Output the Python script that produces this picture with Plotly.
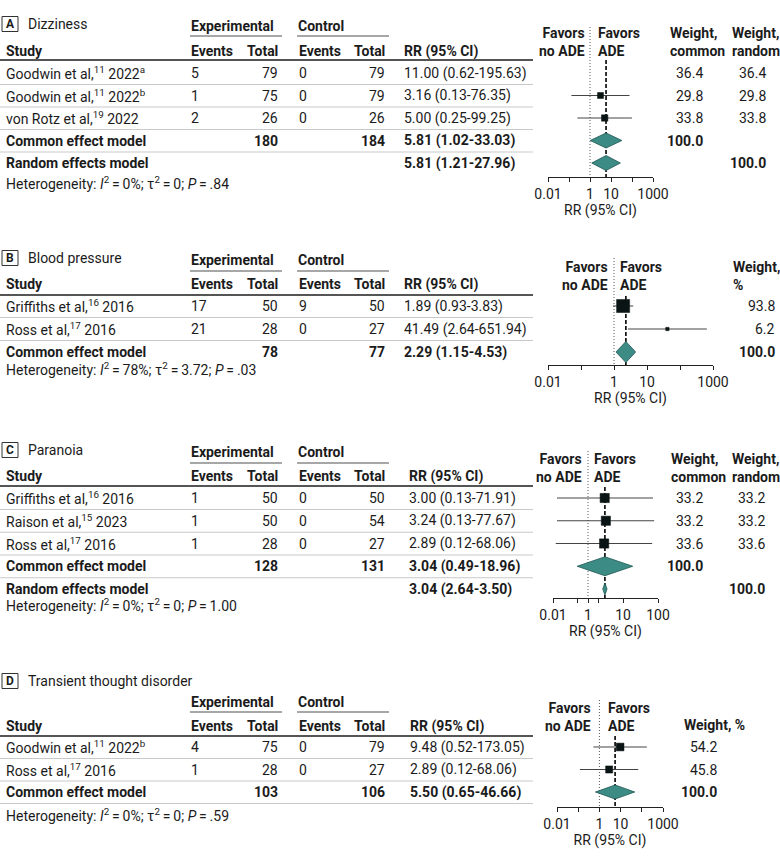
import math
import plotly.graph_objects as go

W, H = 780, 861
FONT = "Roboto, Liberation Sans, sans-serif"
FS = 14
INK = "#1b1b1b"
TEAL = "#3d8b85"
TEAL_EDGE = "#1f5753"
SQ = "#0a1414"

# ---------------- A  Dizziness
a_study = ["Goodwin et al,<sup>11</sup> 2022<sup>a</sup>", "Goodwin et al,<sup>11</sup> 2022<sup>b</sup>",
           "von Rotz et al,<sup>19</sup> 2022"]
a_ev_e = [5, 1, 2]
a_tot_e = [79, 75, 26]
a_ev_c = [0, 0, 0]
a_tot_c = [79, 79, 26]
a_rr = [11.00, 3.16, 5.00]
a_lo = [0.62, 0.13, 0.25]
a_hi = [195.63, 76.35, 99.25]
a_drawn = [False, True, True]
a_w_common = [36.4, 29.8, 33.8]
a_w_random = [36.4, 29.8, 33.8]
a_pool_label = ["Common effect model", "Random effects model"]
a_pool_tot_e = [180, None]
a_pool_tot_c = [184, None]
a_pool_rr = [5.81, 5.81]
a_pool_lo = [1.02, 1.21]
a_pool_hi = [33.03, 27.96]
a_het = ("0%", "0", ".84")

# ---------------- B  Blood pressure
b_study = ["Griffiths et al,<sup>16</sup> 2016", "Ross et al,<sup>17</sup> 2016"]
b_ev_e = [17, 21]
b_tot_e = [50, 28]
b_ev_c = [9, 0]
b_tot_c = [50, 27]
b_rr = [1.89, 41.49]
b_lo = [0.93, 2.64]
b_hi = [3.83, 651.94]
b_drawn = [True, True]
b_w = [93.8, 6.2]
b_pool_label = ["Common effect model"]
b_pool_tot_e = [78]
b_pool_tot_c = [77]
b_pool_rr = [2.29]
b_pool_lo = [1.15]
b_pool_hi = [4.53]
b_het = ("78%", "3.72", ".03")

# ---------------- C  Paranoia
c_study = ["Griffiths et al,<sup>16</sup> 2016", "Raison et al,<sup>15</sup> 2023", "Ross et al,<sup>17</sup> 2016"]
c_ev_e = [1, 1, 1]
c_tot_e = [50, 50, 28]
c_ev_c = [0, 0, 0]
c_tot_c = [50, 54, 27]
c_rr = [3.00, 3.24, 2.89]
c_lo = [0.13, 0.13, 0.12]
c_hi = [71.91, 77.67, 68.06]
c_drawn = [True, True, True]
c_w_common = [33.2, 33.2, 33.6]
c_w_random = [33.2, 33.2, 33.6]
c_pool_label = ["Common effect model", "Random effects model"]
c_pool_tot_e = [128, None]
c_pool_tot_c = [131, None]
c_pool_rr = [3.04, 3.04]
c_pool_lo = [0.49, 2.64]
c_pool_hi = [18.96, 3.50]
c_het = ("0%", "0", "1.00")

# ---------------- D  Transient thought disorder
d_study = ["Goodwin et al,<sup>11</sup> 2022<sup>b</sup>", "Ross et al,<sup>17</sup> 2016"]
d_ev_e = [4, 1]
d_tot_e = [75, 28]
d_ev_c = [0, 0]
d_tot_c = [79, 27]
d_rr = [9.48, 2.89]
d_lo = [0.52, 0.12]
d_hi = [173.05, 68.06]
d_drawn = [True, True]
d_w = [54.2, 45.8]
d_pool_label = ["Common effect model"]
d_pool_tot_e = [103]
d_pool_tot_c = [106]
d_pool_rr = [5.50]
d_pool_lo = [0.65]
d_pool_hi = [46.66]
d_het = ("0%", "0", ".59")

std_ticks = [0.01, 0.1, 1, 10, 100, 1000]
std_labels = ["0.01", "", "1", "10", "", "1000"]
c_ticks = [0.1, 0.5, 1, 2, 10, 100]
c_labels = ["0.01", "", "1", "", "10", "100"]

panels = [
    dict(letter="A", title="Dizziness", study=a_study, ev_e=a_ev_e, tot_e=a_tot_e, ev_c=a_ev_c, tot_c=a_tot_c,
         rr=a_rr, lo=a_lo, hi=a_hi, drawn=a_drawn,
         wcols=[("Weight,<br>common", a_w_common, [100.0, None]), ("Weight,<br>random", a_w_random, [None, 100.0])],
         pool_label=a_pool_label, pool_tot_e=a_pool_tot_e, pool_tot_c=a_pool_tot_c,
         pool_rr=a_pool_rr, pool_lo=a_pool_lo, pool_hi=a_pool_hi, het=a_het,
         ticks=std_ticks, labels=std_labels,
         # layout
         title_y=24, grp_y=26, uline_y=36, head_y=51, thick_y=60, row0=73, dy=22.5, het_y=183,
         axis_y=177, rr_x=403, fav_y=41.5, fav_r=586, fav_l=597, dot_top=27, dash_top=60,
         wpos=[(669, 704), (731, 767)], whead_y=41.5, sq_k=1.1, dia_h=[7.5, 7.5],
         xdom=(548, 653), xr=(-2, 3), sep_last=False),
    dict(letter="B", title="Blood pressure", study=b_study, ev_e=b_ev_e, tot_e=b_tot_e, ev_c=b_ev_c, tot_c=b_tot_c,
         rr=b_rr, lo=b_lo, hi=b_hi, drawn=b_drawn,
         wcols=[("Weight,<br>%", b_w, [100.0])],
         pool_label=b_pool_label, pool_tot_e=b_pool_tot_e, pool_tot_c=b_pool_tot_c,
         pool_rr=b_pool_rr, pool_lo=b_pool_lo, pool_hi=b_pool_hi, het=b_het,
         ticks=std_ticks, labels=std_labels,
         title_y=258, grp_y=260, uline_y=271, head_y=284, thick_y=295, row0=306, dy=23, het_y=369,
         axis_y=365, rr_x=403, fav_y=275.5, fav_r=609, fav_l=619, dot_top=258, dash_top=296,
         wpos=[(732, 776)], whead_y=275.5, sq_k=1.35, dia_h=[10.5],
         xdom=(548, 713), xr=(-2, 3), sep_last=False),
    dict(letter="C", title="Paranoia", study=c_study, ev_e=c_ev_e, tot_e=c_tot_e, ev_c=c_ev_c, tot_c=c_tot_c,
         rr=c_rr, lo=c_lo, hi=c_hi, drawn=c_drawn,
         wcols=[("Weight,<br>common", c_w_common, [100.0, None]), ("Weight,<br>random", c_w_random, [None, 100.0])],
         pool_label=c_pool_label, pool_tot_e=c_pool_tot_e, pool_tot_c=c_pool_tot_c,
         pool_rr=c_pool_rr, pool_lo=c_pool_lo, pool_hi=c_pool_hi, het=c_het,
         ticks=c_ticks, labels=c_labels,
         title_y=450, grp_y=452, uline_y=463, head_y=476, thick_y=486, row0=498, dy=22.75, het_y=605,
         axis_y=598, rr_x=408, fav_y=468, fav_r=583, fav_l=593, dot_top=451, dash_top=487,
         wpos=[(670, 704), (731, 766)], whead_y=468, sq_k=1.6, dia_h=[9.5, 6],
         xdom=(553, 658), xr=(-1, 2), sep_last=False),
    dict(letter="D", title="Transient thought disorder", study=d_study, ev_e=d_ev_e, tot_e=d_tot_e, ev_c=d_ev_c,
         tot_c=d_tot_c, rr=d_rr, lo=d_lo, hi=d_hi, drawn=d_drawn,
         wcols=[("Weight, %", d_w, [100.0])],
         pool_label=d_pool_label, pool_tot_e=d_pool_tot_e, pool_tot_c=d_pool_tot_c,
         pool_rr=d_pool_rr, pool_lo=d_pool_lo, pool_hi=d_pool_hi, het=d_het,
         ticks=std_ticks, labels=std_labels,
         title_y=681, grp_y=702, uline_y=712, head_y=726, thick_y=736, row0=747, dy=22.5, het_y=815,
         axis_y=807, rr_x=409, fav_y=716.5, fav_r=592, fav_l=607, dot_top=700, dash_top=736,
         wpos=[(683, 718)], whead_y=725, sq_k=1.05, dia_h=[7],
         xdom=(557, 663), xr=(-2, 3), sep_last=True),
]

fig = go.Figure()


def txt(x, y, s, anchor="left", bold=False, size=FS, align="left"):
    if bold:
        s = "<b>" + s + "</b>"
    fig.add_annotation(x=x, y=y, xref="x", yref="y", text=s, showarrow=False, xanchor=anchor,
                       yanchor="middle", align=align, borderpad=0,
                       font=dict(family=FONT, size=size, color=INK))


def hline(x0, x1, y, color, width):
    fig.add_shape(type="line", xref="x", yref="y", x0=x0, x1=x1, y0=y, y1=y,
                  line=dict(color=color, width=width))


def fmt_ci(r, l, h):
    return "%.2f (%.2f-%.2f)" % (r, l, h)


TH = "\u2009"

for k, p in enumerate(panels):
    ax = "x%d" % (k + 2)
    n = len(p["study"])
    rows = [p["row0"] + i * p["dy"] for i in range(n + len(p["pool_label"]))]

    # panel label
    fig.add_shape(type="rect", xref="x", yref="y", x0=2, x1=18, y0=p["title_y"] - 7.5, y1=p["title_y"] + 7.5,
                  line=dict(color="#333333", width=1))
    txt(10, p["title_y"], p["letter"], anchor="center", bold=True, size=12)
    txt(27, p["title_y"], p["title"])

    # group headers
    txt(190, p["grp_y"], "Experimental", bold=True)
    txt(297, p["grp_y"], "Control", bold=True)
    hline(190, 282, p["uline_y"], "#8a8a8a", 1.5)
    hline(297, 389, p["uline_y"], "#8a8a8a", 1.5)
    txt(5, p["head_y"], "Study", bold=True)
    txt(190, p["head_y"], "Events", bold=True)
    txt(279, p["head_y"], "Total", anchor="right", bold=True)
    txt(298, p["head_y"], "Events", bold=True)
    txt(386, p["head_y"], "Total", anchor="right", bold=True)
    txt(p["rr_x"], p["head_y"], "RR (95% CI)", bold=True)
    hline(0, 533, p["thick_y"], "#555555", 2)

    # study rows
    for i in range(n):
        y = rows[i]
        txt(5, y, p["study"][i])
        txt(190, y, str(p["ev_e"][i]))
        txt(279, y, str(p["tot_e"][i]), anchor="right")
        txt(298, y, str(p["ev_c"][i]))
        txt(386, y, str(p["tot_c"][i]), anchor="right")
        txt(p["rr_x"], y, fmt_ci(p["rr"][i], p["lo"][i], p["hi"][i]))
        hline(0, 533, y + 11.5, "#c9c9c9", 1)
        for (head, w, wp), (xl, xr_) in zip(p["wcols"], p["wpos"]):
            txt(xr_, y, "%.1f" % w[i], anchor="right")

    # pooled rows
    npool = len(p["pool_label"])
    for j in range(npool):
        y = rows[n + j]
        txt(5, y, p["pool_label"][j], bold=True)
        if p["pool_tot_e"][j] is not None:
            txt(279, y, str(p["pool_tot_e"][j]), anchor="right", bold=True)
            txt(386, y, str(p["pool_tot_c"][j]), anchor="right", bold=True)
        txt(p["rr_x"], y, fmt_ci(p["pool_rr"][j], p["pool_lo"][j], p["pool_hi"][j]), bold=True)
        if j < npool - 1 or p["sep_last"]:
            hline(0, 533, y + 11.5, "#c9c9c9", 1)
        for (head, w, wp), (xl, xr_) in zip(p["wcols"], p["wpos"]):
            if wp[j] is not None:
                txt(xr_, y, "%.1f" % wp[j], anchor="right", bold=True)

    # weight headers
    for (head, w, wp), (xl, xr_) in zip(p["wcols"], p["wpos"]):
        txt(xl, p["whead_y"], head, bold=True)

    het = p["het"]
    txt(5, p["het_y"], ("Heterogeneity: <i>I</i><sup>2</sup>" + TH + "=" + TH + "%s; τ<sup>2</sup>" + TH + "=" + TH
                        + "%s; <i>P</i>" + TH + "=" + TH + "%s") % het)

    # favors labels
    txt(p["fav_r"], p["fav_y"], "Favors<br>no ADE", anchor="right", bold=True, align="right")
    txt(p["fav_l"], p["fav_y"], "Favors<br>ADE", bold=True)

    # forest plot
    ay = p["axis_y"]
    fig.add_trace(go.Scatter(x=[1, 1], y=[p["dot_top"], ay], mode="lines", xaxis=ax, yaxis="y",
                             line=dict(color="#555555", width=1, dash="1px,2px"), hoverinfo="skip"))
    fig.add_trace(go.Scatter(x=[p["pool_rr"][0]] * 2, y=[p["dash_top"], ay], mode="lines", xaxis=ax, yaxis="y",
                             line=dict(color="#111111", width=1.7, dash="4px,2px"), hoverinfo="skip"))
    cx, cy, mx, my, ms = [], [], [], [], []
    wsq = p["wcols"][0][1]
    for i in range(n):
        if not p["drawn"][i]:
            continue
        cx += [p["lo"][i], p["hi"][i], None]
        cy += [rows[i], rows[i], None]
        mx.append(p["rr"][i])
        my.append(rows[i])
        ms.append(p["sq_k"] * math.sqrt(wsq[i]))
    fig.add_trace(go.Scatter(x=cx, y=cy, mode="lines", xaxis=ax, yaxis="y",
                             line=dict(color="#444444", width=1), hoverinfo="skip"))
    fig.add_trace(go.Scatter(x=mx, y=my, mode="markers", xaxis=ax, yaxis="y", opacity=1,
                             marker=dict(symbol="square", size=ms, color=SQ, opacity=1,
                                         line=dict(color=SQ, width=0.5)),
                             hoverinfo="skip"))
    for j in range(npool):
        y = rows[n + j]
        h = p["dia_h"][j]
        r, l, hi = p["pool_rr"][j], p["pool_lo"][j], p["pool_hi"][j]
        fig.add_trace(go.Scatter(x=[l, r, hi, r, l], y=[y, y - h, y, y + h, y], mode="lines", fill="toself",
                                 fillcolor=TEAL, line=dict(color=TEAL_EDGE, width=0.8),
                                 xaxis=ax, yaxis="y", hoverinfo="skip"))

    fig.layout["xaxis%d" % (k + 2)] = dict(
        type="log", domain=[p["xdom"][0] / W, p["xdom"][1] / W], range=list(p["xr"]),
        anchor="free", position=1 - ay / H, showgrid=False, zeroline=False, automargin=False,
        showline=True, linecolor="#222222", linewidth=1, ticks="outside", ticklen=4, tickcolor="#222222",
        tickvals=p["ticks"], ticktext=p["labels"], tickfont=dict(family=FONT, size=FS, color=INK),
        title=dict(text="RR (95% CI)", font=dict(family=FONT, size=FS, color=INK), standoff=1),
        fixedrange=True,
    )

fig.update_layout(
    template="none",
    width=W, height=H, margin=dict(l=0, r=0, t=0, b=0, pad=0, autoexpand=False),
    paper_bgcolor="white", plot_bgcolor="rgba(0,0,0,0)", showlegend=False,
    xaxis=dict(range=[0, W], visible=False, fixedrange=True, automargin=False),
    yaxis=dict(range=[H, 0], visible=False, fixedrange=True, automargin=False),
    font=dict(family=FONT, size=FS, color=INK),
)

fig.write_html("out.html", config=dict(displayModeBar=False),
               post_script="document.body.style.margin='0px'; document.body.style.overflow='hidden';")
